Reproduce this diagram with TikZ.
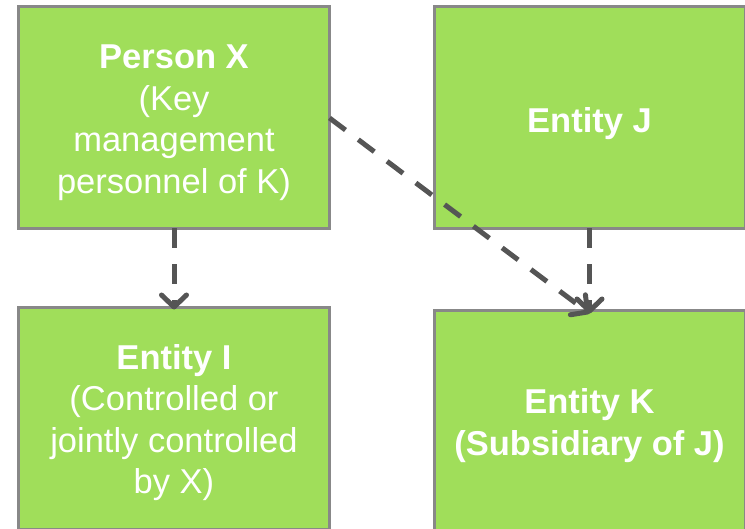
\documentclass[tikz,border=0pt]{standalone}
\usepackage{fontspec}
\setmainfont{Liberation Sans}
\usetikzlibrary{arrows.meta}
\definecolor{boxgreen}{RGB}{160,222,90}
\definecolor{boxedge}{RGB}{136,136,136}
\definecolor{linkgray}{RGB}{85,85,85}
\tikzset{
  entity/.style={draw=boxedge, line width=3pt, fill=boxgreen,
    minimum width=311pt, minimum height=222pt, inner sep=0pt, outer sep=0pt},
  etext/.style={text=white, inner sep=0pt, align=center,
    font=\fontsize{34.5}{41.5}\selectfont},
  link/.style={draw=linkgray, line width=5pt, dash pattern=on 20pt off 16pt,
    -{Straight Barb[length=12pt,width=25pt,line cap=round,line join=round]}}
}
\begin{document}
\begin{tikzpicture}[x=1pt,y=-1pt]
  \useasboundingbox (0,0) rectangle (745,529);
  \begin{scope}
    \clip (0,0) rectangle (745,529);
    \node[entity] (px) at (174,117.5) {};
    \node[entity] (ej) at (589.5,117.5) {};
    \node[entity] (ei) at (174,418.5) {};
    \node[entity] (ek) at (589.5,421.5) {};
  \end{scope}
  % text sits a little below the box centres
  \node[etext] (pxt) at ([yshift=-5pt]px.center) {\textbf{Person X}\\(Key\\management\\personnel of K)};
  \node[etext] (ejt) at ([yshift=-6pt]ej.center) {\textbf{Entity J}};
  \node[etext] (eit) at ([yshift=-4pt]ei.center) {\textbf{Entity I}\\(Controlled or\\jointly controlled\\by X)};
  \node[etext] (ekt) at ([yshift=-4pt]ek.center) {\textbf{Entity K}\\\textbf{(Subsidiary of J)}};
  \draw[link] (px.south) -- ([yshift=-2pt]ei.north);
  \draw[link] (ej.south) -- ([yshift=-3pt]ek.north);
  \draw[link] ([yshift=-0.5pt]px.east) -- ([yshift=-3pt]ek.north);
\end{tikzpicture}
\end{document}
